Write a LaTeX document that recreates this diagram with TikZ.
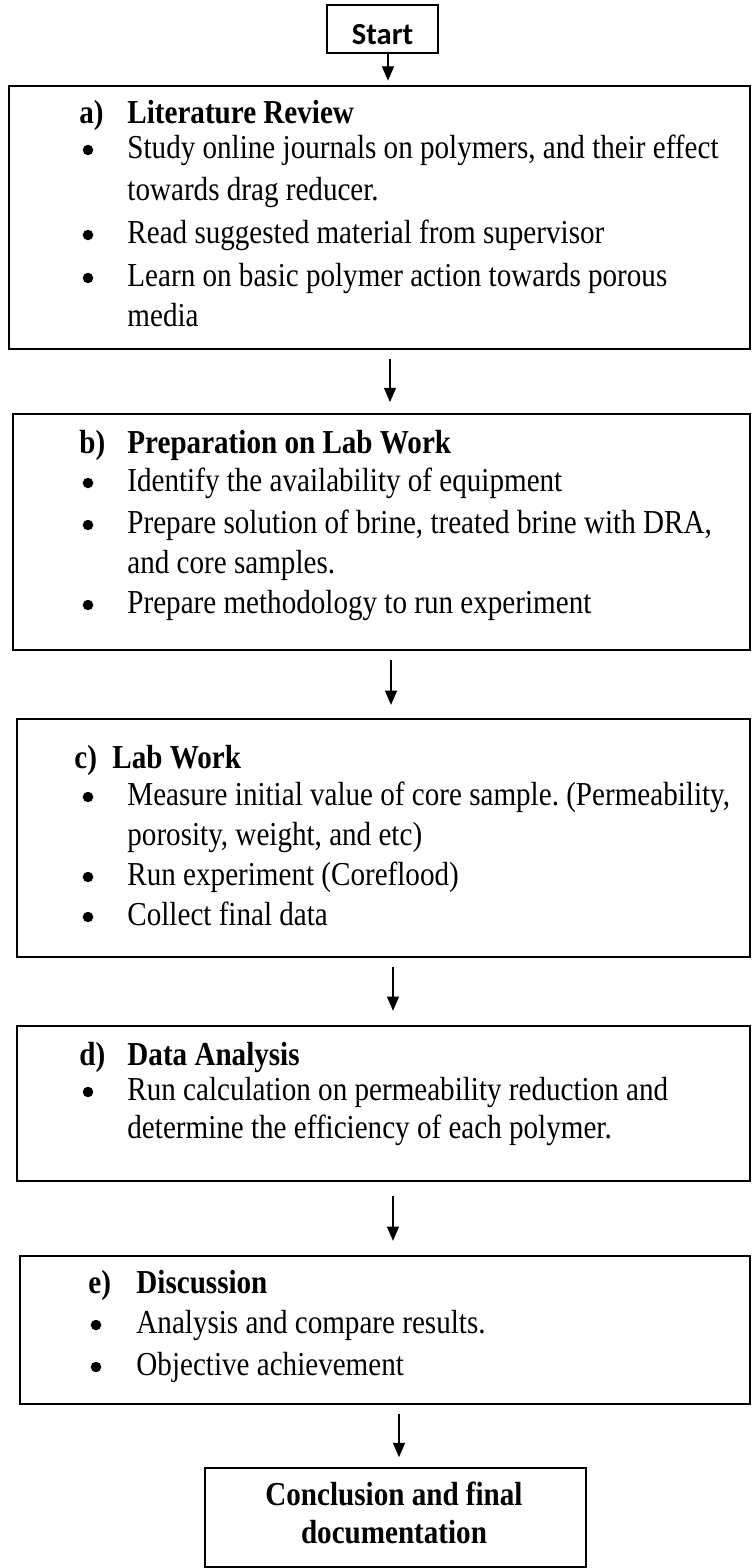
\documentclass[tikz,border=0pt]{standalone}
\usepackage{fontspec}
\setmainfont{Liberation Serif}
\newfontfamily\startfont{Carlito}
\usetikzlibrary{arrows.meta}
\newcommand\pxs{0.457}
\newcommand\tall[1]{\scalebox{1}[1.15]{#1}}
\frenchspacing

\begin{document}
\begin{tikzpicture}[x=\pxs pt, y=-\pxs pt,
  stepbox/.style = {draw, line width=0.8pt, anchor=north west, inner sep=0},
  txt/.style = {anchor=west, inner sep=0, text height=10pt, text depth=2.5pt, font=\fontsize{13.3}{15}\selectfont},
  head/.style = {txt, font=\fontsize{13.3}{15}\selectfont\bfseries},
  dot/.style = {circle, fill, inner sep=0, minimum width=4.4pt, minimum height=4.8pt},
  arr/.style = {-{Triangle[width=5.5pt,length=6.5pt]}, line width=0.5pt}]
\useasboundingbox (0,0) rectangle (751,1568);

\node [draw, line width=0.8pt, minimum width=111*\pxs pt, minimum height=48*\pxs pt,
  inner sep=0, text height=14pt, text depth=0pt, font=\startfont\bfseries\fontsize{14}{16}\selectfont] (start) at (382.5,29) {Start};

\node [stepbox, minimum width=741*\pxs pt, minimum height=263*\pxs pt] (lit) at (8,85) {};
\node [head] (lit-l) at (79,115) {\tall{a)}};
\node [head] (lit-h) at (127,115) {\tall{Literature Review}};
\node [dot] (lit-d1) at (88,150) {};
\node [txt] (lit-t1) at (127,150) {\tall{Study online journals on polymers, and their effect}};
\node [txt] (lit-t1b) at (127,192) {\tall{towards drag reducer.}};
\node [dot] (lit-d2) at (88,235) {};
\node [txt] (lit-t2) at (127,235) {\tall{Read suggested material from supervisor}};
\node [dot] (lit-d3) at (88,278) {};
\node [txt] (lit-t3) at (127,278) {\tall{Learn on basic polymer action towards porous}};
\node [txt] (lit-t3b) at (127,318) {\tall{media}};

\node [stepbox, minimum width=737*\pxs pt, minimum height=236*\pxs pt] (prep) at (12,413) {};
\node [head] (prep-l) at (79,445) {\tall{b)}};
\node [head] (prep-h) at (127,445) {\tall{Preparation on Lab Work}};
\node [dot] (prep-d1) at (88,483) {};
\node [txt] (prep-t1) at (127,483) {\tall{Identify the availability of equipment}};
\node [dot] (prep-d2) at (88,525) {};
\node [txt] (prep-t2) at (127,525) {\tall{Prepare solution of brine, treated brine with DRA,}};
\node [txt] (prep-t2b) at (127,565) {\tall{and core samples.}};
\node [dot] (prep-d3) at (88,605) {};
\node [txt] (prep-t3) at (127,605) {\tall{Prepare methodology to run experiment}};

\node [stepbox, minimum width=733*\pxs pt, minimum height=238*\pxs pt] (lab) at (16,718) {};
\node [head] (lab-l) at (74,760) {\tall{c)}};
\node [head] (lab-h) at (112,760) {\tall{Lab Work}};
\node [dot] (lab-d1) at (88,797) {};
\node [txt] (lab-t1) at (127,797) {\tall{Measure initial value of core sample. (Permeability,}};
\node [txt] (lab-t1b) at (127,837) {\tall{porosity, weight, and etc)}};
\node [dot] (lab-d2) at (88,877) {};
\node [txt] (lab-t2) at (127,877) {\tall{Run experiment (Coreflood)}};
\node [dot] (lab-d3) at (88,917) {};
\node [txt] (lab-t3) at (127,917) {\tall{Collect final data}};

\node [stepbox, minimum width=733*\pxs pt, minimum height=155*\pxs pt] (data) at (16,1025) {};
\node [head] (data-l) at (79,1057) {\tall{d)}};
\node [head] (data-h) at (127,1057) {\tall{Data Analysis}};
\node [dot] (data-d1) at (88,1092) {};
\node [txt] (data-t1) at (127,1092) {\tall{Run calculation on permeability reduction and}};
\node [txt] (data-t1b) at (127,1130) {\tall{determine the efficiency of each polymer.}};

\node [stepbox, minimum width=730*\pxs pt, minimum height=148*\pxs pt] (disc) at (19,1255) {};
\node [head] (disc-l) at (88,1285) {\tall{e)}};
\node [head] (disc-h) at (136,1285) {\tall{Discussion}};
\node [dot] (disc-d1) at (96,1325) {};
\node [txt] (disc-t1) at (136,1325) {\tall{Analysis and compare results.}};
\node [dot] (disc-d2) at (96,1367) {};
\node [txt] (disc-t2) at (136,1367) {\tall{Objective achievement}};

\node [stepbox, minimum width=381*\pxs pt, minimum height=99*\pxs pt] (concl) at (204,1467) {};
\node [head, anchor=center] (concl-t1) at (394,1497) {\tall{Conclusion and final}};
\node [head, anchor=center] (concl-t2) at (394,1535) {\tall{documentation}};

\coordinate (c0) at (388,0);
\coordinate (c1) at (390,0);
\coordinate (c2) at (391,0);
\coordinate (c3) at (393,0);
\coordinate (c4) at (399,0);
\draw [arr, shorten >=2pt] (start.south -| c0) -- (lit.north -| c0);
\draw [arr, shorten <=4pt, shorten >=5pt] (lit.south -| c1) -- (prep.north -| c1);
\draw [arr, shorten <=4pt, shorten >=6pt] (prep.south -| c2) -- (lab.north -| c2);
\draw [arr, shorten <=4pt, shorten >=6.5pt] (lab.south -| c3) -- (data.north -| c3);
\draw [arr, shorten <=6.5pt, shorten >=6.5pt] (data.south -| c3) -- (disc.north -| c3);
\draw [arr, shorten <=4pt, shorten >=4.5pt] (disc.south -| c4) -- (concl.north -| c4);
\end{tikzpicture}
\end{document}
